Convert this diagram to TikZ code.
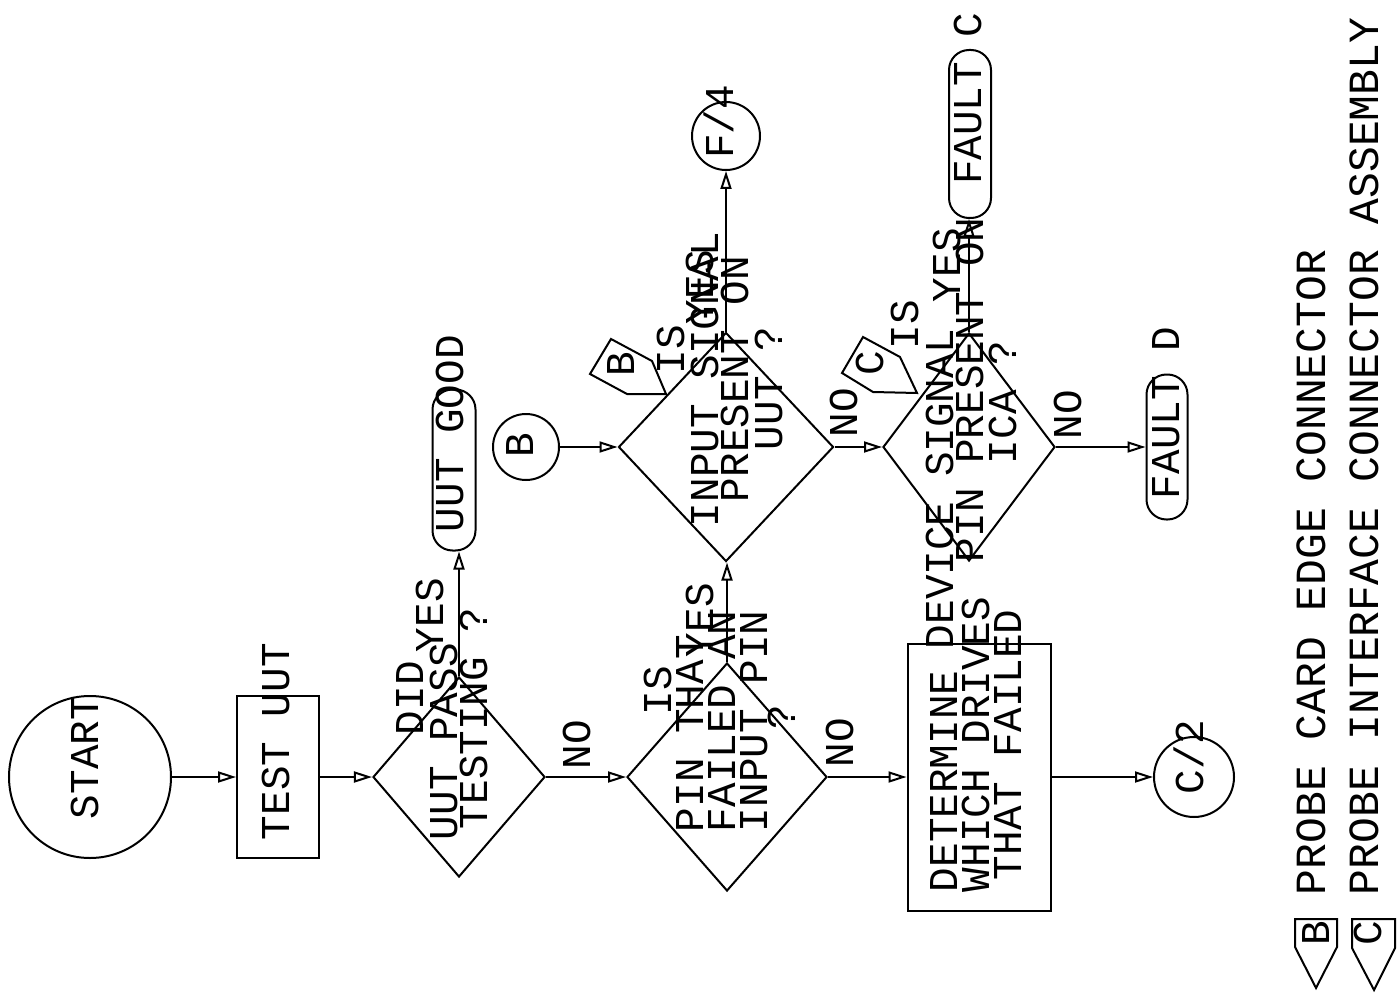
\documentclass[tikz,border=0pt]{standalone}
\usepackage{fontspec}
\usepackage{tikz}
\usetikzlibrary{shapes.geometric, arrows.meta}
\newfontfamily\plotfont{Liberation Mono}

\begin{document}
\begin{tikzpicture}[x=1pt, y=-1pt, line width=2pt,
    txt/.style={rotate=90, anchor=west, inner sep=0pt, text height=27pt, text depth=0pt,
        font=\plotfont\fontsize{41}{32}\selectfont},
    legendtxt/.style={txt, font=\plotfont\fontsize{43}{43}\selectfont},
    dec/.style={draw, diamond, inner sep=0pt},
    proc/.style={draw, rectangle, inner sep=0pt},
    term/.style={draw, rectangle, rounded corners=20pt, inner sep=0pt},
    conn/.style={draw, circle, inner sep=0pt},
    flow/.style={-{Triangle[open, length=18pt, width=11pt]}}]
    \useasboundingbox (0,0) rectangle (1397,1000);

    % Shapes
    \node[conn, minimum size=162pt] (start) at (90,777) {};
    \node[proc, minimum width=82pt, minimum height=162pt] (test) at (278,777) {};
    \node[dec, minimum width=172pt, minimum height=200pt] (d1) at (459,777) {};
    \node[term, minimum width=43pt, minimum height=161pt] (good) at (454,470) {};
    \node[dec, minimum width=200pt, minimum height=228pt] (d2) at (727,777) {};
    \node[proc, minimum width=143pt, minimum height=267pt] (det) at (979,777) {};
    \node[conn, minimum size=80pt] (c2) at (1194,777) {};
    \node[conn, minimum size=66pt] (b) at (526,447) {};
    \node[dec, minimum width=215pt, minimum height=229pt] (d3) at (726,447) {};
    \node[conn, minimum size=68pt] (f4) at (726,136) {};
    \node[dec, minimum width=172pt, minimum height=228pt] (d4) at (969,447) {};
    \node[term, minimum width=42pt, minimum height=168pt] (faultc) at (970,134) {};
    \node[term, minimum width=41pt, minimum height=145pt] (faultd) at (1167,447) {};

    % Connectors
    \draw[flow] (start) -- (test);
    \draw[flow] (test) -- (d1);
    \draw[flow] (d1.north) -- (d1.north |- good.south);
    \draw[flow] (d1) -- (d2);
    \draw[flow] (d2) -- (det);
    \draw[flow] (det) -- (c2);
    \draw[flow] (d2.north) -- (d2.north |- d3.south);
    \draw[flow] (b) -- (d3);
    \draw[flow] (d3.north) -- (d3.north |- f4.south);
    \draw[flow] (d3) -- (d4);
    \draw[flow] (d4.north) -- (d4.north |- faultc.south);
    \draw[flow] (d4) -- (faultd);

    % Connector tags
    \draw (590,374) -- (611,339) -- (652,361) -- (666,394) -- (627,394) -- cycle;
    \draw (842,373) -- (863,337) -- (900,357) -- (917,393) -- (873,392) -- cycle;
    \node[txt, anchor=center] (tagb) at (621,364) {B};
    \node[txt, anchor=center] (tagc) at (870,363) {C};

    % Labels
    \node[txt] (starttxt) at (85,820) {START};
    \node[txt] (testtxt) at (276,841) {TEST UUT};
    \node[txt] (d1a) at (410,736) {DID};
    \node[txt] (d1b) at (444,841) {UUT PASS};
    \node[txt] (d1c) at (474,830) {TESTING ?};
    \node[txt] (yes1) at (430,653) {YES};
    \node[txt] (goodtxt) at (450,533) {UUT GOOD};
    \node[txt] (no1) at (577,770) {NO};
    \node[txt] (d2a) at (658,716) {IS};
    \node[txt] (d2b) at (690,833) {PIN THAT};
    \node[txt] (d2c) at (722,833) {FAILED AN};
    \node[txt] (d2d) at (754,833) {INPUT PIN};
    \node[txt] (d2e) at (782,730) {?};
    \node[txt] (yes2) at (700,658) {YES};
    \node[txt] (no2) at (840,768) {NO};
    \node[txt] (deta) at (944,893) {DETERMINE};
    \node[txt] (detb) at (976,893) {WHICH DRIVES};
    \node[txt] (detc) at (1008,881) {THAT FAILED};
    \node[txt] (c2txt) at (1190,795) {C/2};
    \node[txt] (btxt) at (520,458) {B};
    \node[txt] (d3a) at (671,375) {IS};
    \node[txt] (d3b) at (705,528) {INPUT SIGNAL};
    \node[txt] (d3c) at (735,503) {PRESENT ON};
    \node[txt] (d3d) at (769,451) {UUT ?};
    \node[txt] (yes3) at (700,325) {YES};
    \node[txt] (f4txt) at (720,160) {F/4};
    \node[txt] (no3) at (844,438) {NO};
    \node[txt] (d4a) at (905,350) {IS};
    \node[txt] (d4b) at (940,650) {DEVICE SIGNAL};
    \node[txt] (d4c) at (970,563) {PIN PRESENT ON};
    \node[txt] (d4d) at (1003,465) {ICA ?};
    \node[txt] (yes4) at (947,303) {YES};
    \node[txt] (fctxt) at (968,186) {FAULT C};
    \node[txt] (no4) at (1068,440) {NO};
    \node[txt] (fdtxt) at (1166,500) {FAULT D};

    % Legend
    \draw (1295,919) -- (1337,919) -- (1337,947) -- (1316,988) -- (1295,947) -- cycle;
    \draw (1352,919) -- (1395,919) -- (1395,948) -- (1374,990) -- (1352,948) -- cycle;
    \node[txt, anchor=center] (legb) at (1316,933) {B};
    \node[txt, anchor=center] (legc) at (1368,933) {C};
    \node[legendtxt] (leg1) at (1312,896) {PROBE CARD EDGE CONNECTOR};
    \node[legendtxt] (leg2) at (1365,896) {PROBE INTERFACE CONNECTOR ASSEMBLY};
\end{tikzpicture}
\end{document}
